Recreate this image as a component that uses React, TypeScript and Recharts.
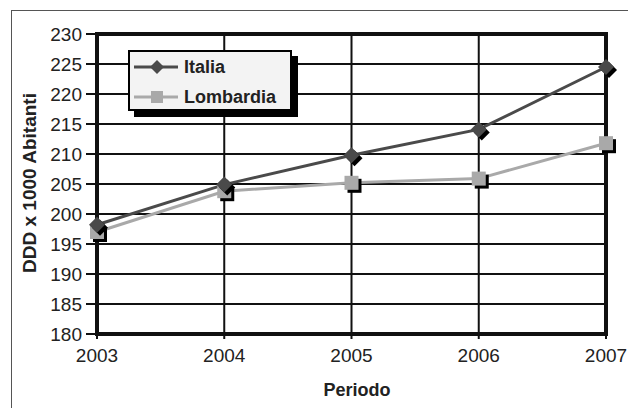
import React from 'react';
import {
  LineChart,
  Line,
  XAxis,
  YAxis,
  CartesianGrid,
  Legend,
  ReferenceArea,
} from 'recharts';

const years = ['2003', '2004', '2005', '2006', '2007'];
const italia = [198.2, 204.9, 209.8, 214.1, 224.5];
const lombardia = [197.0, 203.8, 205.2, 205.9, 211.8];
const yTicks = [180, 185, 190, 195, 200, 205, 210, 215, 220, 225, 230];

const data = years.map((year, i) => ({ year, italia: italia[i], lombardia: lombardia[i] }));

const FONT = '"Liberation Sans", Arial, sans-serif';
const ITALIA = '#4a4a4a';
const LOMBARDIA = '#a9a9a9';

const DiamondDot = (props: any) => {
  const { cx, cy, index } = props;
  if (cx == null || cy == null) return <g key={index} />;
  const r = 8;
  const pts = (dx: number, dy: number) =>
    `${cx + dx},${cy - r + dy} ${cx + r + dx},${cy + dy} ${cx + dx},${cy + r + dy} ${cx - r + dx},${cy + dy}`;
  return (
    <g key={index}>
      <polygon points={pts(3, 3)} fill="#000" />
      <polygon points={pts(0, 0)} fill={ITALIA} />
    </g>
  );
};

const SquareDot = (props: any) => {
  const { cx, cy, index } = props;
  if (cx == null || cy == null) return <g key={index} />;
  const s = 14;
  return (
    <g key={index}>
      <rect x={cx - s / 2 + 3} y={cy - s / 2 + 3} width={s} height={s} fill="#000" />
      <rect x={cx - s / 2} y={cy - s / 2} width={s} height={s} fill={LOMBARDIA} />
    </g>
  );
};

const LegendBox = () => (
  <div style={{ position: 'relative', width: 164, height: 61 }}>
    <div style={{ position: 'absolute', left: 6, top: 6, width: 164, height: 61, background: '#000' }} />
    <div
      style={{
        position: 'absolute',
        left: 0,
        top: 0,
        width: 160,
        height: 57,
        background: '#f3f3f3',
        border: '2px solid #000',
        fontFamily: FONT,
        fontWeight: 'bold',
        fontSize: 18,
        color: '#222',
        lineHeight: '20px',
      }}
    >
      <div style={{ position: 'absolute', left: 2, top: 5, display: 'flex', alignItems: 'center' }}>
        <svg width={48} height={20}>
          <line x1={2} y1={10} x2={46} y2={10} stroke={ITALIA} strokeWidth={3} />
          <polygon points="25,3 32,10 25,17 18,10" fill={ITALIA} />
        </svg>
        <span style={{ marginLeft: 4 }}>Italia</span>
      </div>
      <div style={{ position: 'absolute', left: 2, top: 35, display: 'flex', alignItems: 'center' }}>
        <svg width={48} height={20}>
          <line x1={2} y1={10} x2={46} y2={10} stroke={LOMBARDIA} strokeWidth={3} />
          <rect x={19} y={4} width={12} height={12} fill={LOMBARDIA} />
        </svg>
        <span style={{ marginLeft: 4 }}>Lombardia</span>
      </div>
    </div>
  </div>
);

export default function App() {
  return (
    <div style={{ position: 'absolute', left: 0, top: 0, width: 628, height: 408, background: '#fff', overflow: 'hidden' }}>
      <div
        style={{
          position: 'absolute',
          left: 11,
          top: 10,
          width: 640,
          height: 420,
          border: '1.5px solid #555',
          boxSizing: 'border-box',
        }}
      />
      <LineChart
        width={628}
        height={408}
        data={data}
        margin={{ top: 34, right: 22, bottom: 44, left: 0 }}
        style={{ position: 'absolute', left: 0, top: 0 }}
      >
        <CartesianGrid stroke="#111" strokeWidth={2} />
        <XAxis
          dataKey="year"
          height={30}
          axisLine={{ stroke: '#111', strokeWidth: 4 }}
          tickLine={{ stroke: '#111', strokeWidth: 2 }}
          tickSize={5}
          tickMargin={10}
          interval={0}
          tick={{ fontFamily: FONT, fontSize: 19, fill: '#222' }}
          label={{
            content: () => (
              <text x={357} y={396} textAnchor="middle" fontFamily={FONT} fontSize={18} fontWeight="bold" fill="#222">
                Periodo
              </text>
            ),
          }}
        />
        <YAxis
          width={97}
          domain={[180, 230]}
          ticks={yTicks}
          interval={0}
          axisLine={{ stroke: '#111', strokeWidth: 4 }}
          tickLine={{ stroke: '#111', strokeWidth: 2 }}
          tickSize={11}
          tickMargin={4}
          tick={{ fontFamily: FONT, fontSize: 19, fill: '#222' }}
          label={{
            content: () => (
              <text
                x={36}
                y={183}
                transform="rotate(-90 36 183)"
                textAnchor="middle"
                fontFamily={FONT}
                fontSize={19}
                fontWeight="bold"
                fill="#222"
              >
                DDD x 1000 Abitanti
              </text>
            ),
          }}
        />
        <ReferenceArea x1="2003" x2="2007" y1={180} y2={230} fill="none" stroke="#111" strokeWidth={4} ifOverflow="visible" />
        <Legend
          layout="horizontal"
          verticalAlign="middle"
          align="center"
          content={() => <LegendBox />}
          wrapperStyle={{ position: 'absolute', left: 128, top: 50, width: 170, height: 67 }}
        />
        <Line
          dataKey="lombardia"
          stroke={LOMBARDIA}
          strokeWidth={3}
          dot={SquareDot}
          activeDot={false}
          isAnimationActive={false}
        />
        <Line
          dataKey="italia"
          stroke={ITALIA}
          strokeWidth={3}
          dot={DiamondDot}
          activeDot={false}
          isAnimationActive={false}
        />
      </LineChart>
    </div>
  );
}
